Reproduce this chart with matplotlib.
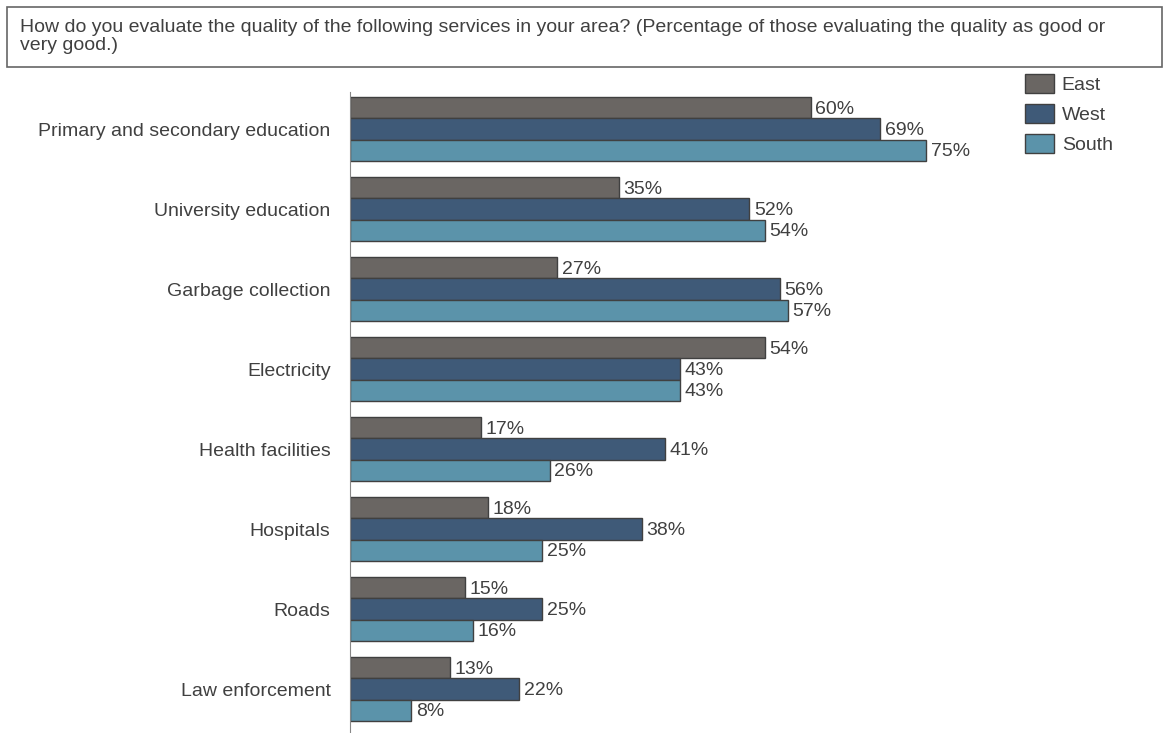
import matplotlib.pyplot as plt
import numpy as np
from matplotlib.patches import Rectangle

plt.rcParams['font.family'] = ['Liberation Sans', 'DejaVu Sans']

categories = ['Primary and secondary education', 'University education', 'Garbage collection',
              'Electricity', 'Health facilities', 'Hospitals', 'Roads', 'Law enforcement']
east = [60, 35, 27, 54, 17, 18, 15, 13]
west = [69, 52, 56, 43, 41, 38, 25, 22]
south = [75, 54, 57, 43, 26, 25, 16, 8]
series = ['East', 'West', 'South']
colors = ['#6a6663', '#3f5a78', '#5b93aa']
txt = '#404040'

fig = plt.figure(figsize=(11.63, 7.33), dpi=100)

# question box across the top
fig.patches.append(Rectangle((7 / 1163, 1 - 67 / 733), 1155 / 1163, 60 / 733,
                             transform=fig.transFigure, fill=False,
                             edgecolor='#666666', linewidth=1.2))
fig.text(20 / 1163, 1 - 19 / 733,
         'How do you evaluate the quality of the following services in your area? (Percentage of those evaluating the quality as good or\nvery good.)',
         fontsize=14, color=txt, va='top', ha='left', linespacing=1.1)

ax = fig.add_axes([350 / 1163, 0, 768 / 1163, 641 / 733])
y = np.arange(len(categories))
h = 0.267
for k, (name, vals) in enumerate(zip(series, [east, west, south])):
    pos = y + (k - 1) * h
    ax.barh(pos, vals, height=h, color=colors[k], edgecolor='#404040',
            linewidth=1, label=name)
    for p, v in zip(pos, vals):
        ax.text(v + 0.6, p + 0.02, f'{v}%', va='center', ha='left', fontsize=14, color=txt)

ax.set_xlim(0, 100)
ax.set_ylim(7.55, -0.4625)
ax.set_yticks(y)
ax.set_yticklabels(categories, fontsize=14, color=txt)
ax.tick_params(axis='y', length=0, pad=14)
ax.set_xticks([])
for s in ['top', 'right', 'bottom']:
    ax.spines[s].set_visible(False)
ax.spines['left'].set_color('#888888')

leg = fig.legend(loc='upper left', bbox_to_anchor=(1017 / 1163, 1 - 66 / 733),
                 frameon=False, fontsize=14, handlelength=1.5, handleheight=1.15,
                 labelspacing=0.5, handletextpad=0.4, borderaxespad=0)
for t in leg.get_texts():
    t.set_color(txt)

fig.savefig('out.png', dpi=100)
